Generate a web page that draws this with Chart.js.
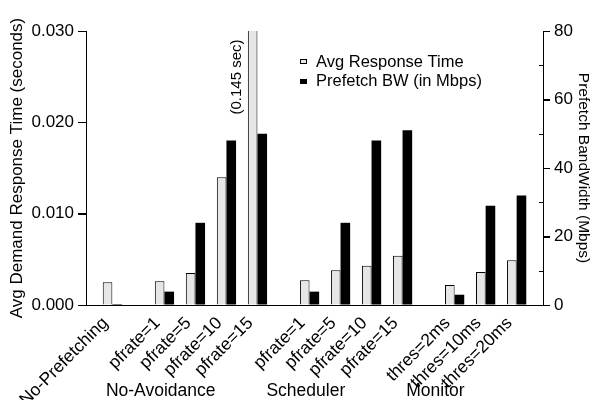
<!DOCTYPE html>
<html>
<head>
<meta charset="utf-8">
<title>Response time and prefetch bandwidth</title>
<style>
  html, body { margin: 0; padding: 0; background: #fff; }
  #wrap { width: 593px; height: 400px; }
</style>
</head>
<body>
<div id="wrap"><canvas id="c" width="593" height="400"></canvas></div>
<script src="https://cdn.jsdelivr.net/npm/chart.js"></script>
<script>
// categories along the x axis, and the group each one belongs to
var categories = ["No-Prefetching", "pfrate=1", "pfrate=5", "pfrate=10", "pfrate=15",
                  "pfrate=1", "pfrate=5", "pfrate=10", "pfrate=15",
                  "thres=2ms", "thres=10ms", "thres=20ms"];
var groupNames = ["", "No-Avoidance", "Scheduler", "Monitor"];
var groupSizes = [1, 4, 4, 3];

// series values
var responseTime = [0.0025, 0.0026, 0.0035, 0.0140, 0.145,
                    0.0027, 0.0038, 0.0043, 0.0054,
                    0.0022, 0.0036, 0.0049];              // seconds
var prefetchBW = [0.3, 3.9, 24, 48, 50,
                  3.9, 24, 48, 51,
                  3, 29, 32];                           // Mbps

var seriesNames = ["Avg Response Time", "Prefetch BW (in Mbps)"];
var leftTicks = [0, 0.01, 0.02, 0.03];
var rightTicks = [0, 20, 40, 60, 80];
var rightMinor = [10, 30, 50, 70];
var clippedNote = "(0.145 sec)";

var FONT = "'Liberation Sans', Arial, Helvetica, sans-serif";

// x positions: one unit per category, plus a wider gap between groups
var GAP = 0.68, OFFSET = 0.85, XMAX = 14.74;
var positions = [];
var groupIdx = [];
(function () {
    var k = 0;
    for (let g = 0; g < groupSizes.length; g++) {
        for (let j = 0; j < groupSizes[g]; j++) {
            positions.push(OFFSET + k + g * GAP);
            groupIdx.push(g);
            k++;
        }
    }
})();

function toPoints(vals) {
    var out = [];
    for (let i = 0; i < vals.length; i++) out.push({ x: positions[i], y: vals[i] });
    return out;
}

// legend, group labels, note and axis tick marks
var extras = {
    id: "extras",
    afterDraw: function (chart) {
        var ctx = chart.ctx;
        var area = chart.chartArea;
        var xs = chart.scales.x, yl = chart.scales.y, yr = chart.scales.y1;
        ctx.save();
        ctx.fillStyle = "#000";
        ctx.strokeStyle = "#000";
        ctx.lineWidth = 1;

        function hline(x1, x2, y) {
            var py = Math.round(y) + 0.5;
            ctx.beginPath();
            ctx.moveTo(x1, py);
            ctx.lineTo(x2, py);
            ctx.stroke();
        }
        leftTicks.forEach(function (v) { hline(area.left - 8, area.left, yl.getPixelForValue(v)); });
        rightTicks.forEach(function (v) { hline(area.right, area.right + 7, yr.getPixelForValue(v)); });
        rightMinor.forEach(function (v) { hline(area.right - 4, area.right, yr.getPixelForValue(v)); });

        // legend
        ctx.font = "16.5px " + FONT;
        ctx.textBaseline = "middle";
        ctx.textAlign = "left";
        var lx = area.left + 214, ly = 62;
        ctx.fillStyle = "#e6e6e6";
        ctx.fillRect(lx + 0.5, ly - 2.5, 6, 4);
        ctx.strokeRect(lx + 0.5, ly - 2.5, 6, 4);
        ctx.fillStyle = "#000";
        ctx.fillRect(lx, ly + 17, 7, 5);
        ctx.fillText(seriesNames[0], lx + 16, ly);
        ctx.fillText(seriesNames[1], lx + 16, ly + 19);

        // note for clipped bar
        var iClip = responseTime.indexOf(0.145);
        var nx = xs.getPixelForValue(positions[iClip]) - 21;
        ctx.save();
        ctx.translate(nx, area.top + 46);
        ctx.rotate(-Math.PI / 2);
        ctx.font = "15px " + FONT;
        ctx.textAlign = "center";
        ctx.fillText(clippedNote, 0, 0);
        ctx.restore();

        // group labels, shifted left to sit under the slanted tick labels
        ctx.font = "17.5px " + FONT;
        ctx.textAlign = "center";
        ctx.textBaseline = "middle";
        for (let g = 1; g < groupNames.length; g++) {
            var sum = 0, n = 0;
            for (let i = 0; i < positions.length; i++) {
                if (groupIdx[i] === g) { sum += positions[i]; n++; }
            }
            ctx.fillText(groupNames[g], xs.getPixelForValue(sum / n - 1.62), 391);
        }
        ctx.restore();
    }
};

new Chart(document.getElementById("c"), {
    type: "bar",
    data: {
        datasets: [{
            label: seriesNames[0],
            data: toPoints(responseTime),
            yAxisID: "y",
            backgroundColor: "#e6e6e6",
            borderColor: "#000",
            borderWidth: 1,
            borderSkipped: "bottom"
        }, {
            label: seriesNames[1],
            data: toPoints(prefetchBW),
            yAxisID: "y1",
            backgroundColor: "#000",
            borderColor: "#000",
            borderWidth: 0
        }]
    },
    options: {
        responsive: false,
        animation: false,
        categoryPercentage: 0.62,
        barPercentage: 1.0,
        layout: { padding: { top: 31, left: 0, right: 0, bottom: 0 } },
        plugins: {
            legend: { display: false },
            tooltip: { enabled: false }
        },
        scales: {
            x: {
                type: "linear",
                offset: false,
                min: 0,
                max: XMAX,
                afterBuildTicks: function (s) {
                    s.ticks = positions.map(function (v) { return { value: v }; });
                },
                afterFit: function (s) { s.height = 95; },
                grid: { display: false },
                border: { display: true, color: "#000", width: 1 },
                ticks: {
                    autoSkip: false,
                    minRotation: 45,
                    maxRotation: 45,
                    padding: 0,
                    labelOffset: -7,
                    color: "#000",
                    font: { family: FONT, size: 17.5 },
                    callback: function (v, i) { return categories[i]; }
                }
            },
            y: {
                position: "left",
                min: 0,
                max: 0.03,
                afterBuildTicks: function (s) {
                    s.ticks = leftTicks.map(function (v) { return { value: v }; });
                },
                afterFit: function (s) { s.width = 86; },
                grid: { drawOnChartArea: false, drawTicks: true, tickLength: 8, color: "#000" },
                border: { display: true, color: "#000", width: 1 },
                ticks: {
                    padding: 4,
                    color: "#000",
                    font: { family: FONT, size: 17 },
                    callback: function (v) { return v.toFixed(3); }
                },
                title: {
                    display: true,
                    text: "Avg Demand Response Time (seconds)",
                    color: "#000",
                    font: { family: FONT, size: 17 },
                    padding: { top: 7, bottom: 0 }
                }
            },
            y1: {
                position: "right",
                min: 0,
                max: 80,
                afterBuildTicks: function (s) {
                    s.ticks = rightTicks.map(function (v) { return { value: v }; });
                },
                afterFit: function (s) { s.width = 50; },
                grid: { drawOnChartArea: false, drawTicks: true, tickLength: 7, color: "#000" },
                border: { display: true, color: "#000", width: 1 },
                ticks: {
                    padding: 4,
                    color: "#000",
                    font: { family: FONT, size: 17 },
                    callback: function (v) { return String(v); }
                },
                title: {
                    display: true,
                    text: "Prefetch BandWidth (Mbps)",
                    color: "#000",
                    font: { family: FONT, size: 15.5 },
                    padding: { top: 0, bottom: 2 }
                }
            }
        }
    },
    plugins: [extras]
});
</script>
</body>
</html>
